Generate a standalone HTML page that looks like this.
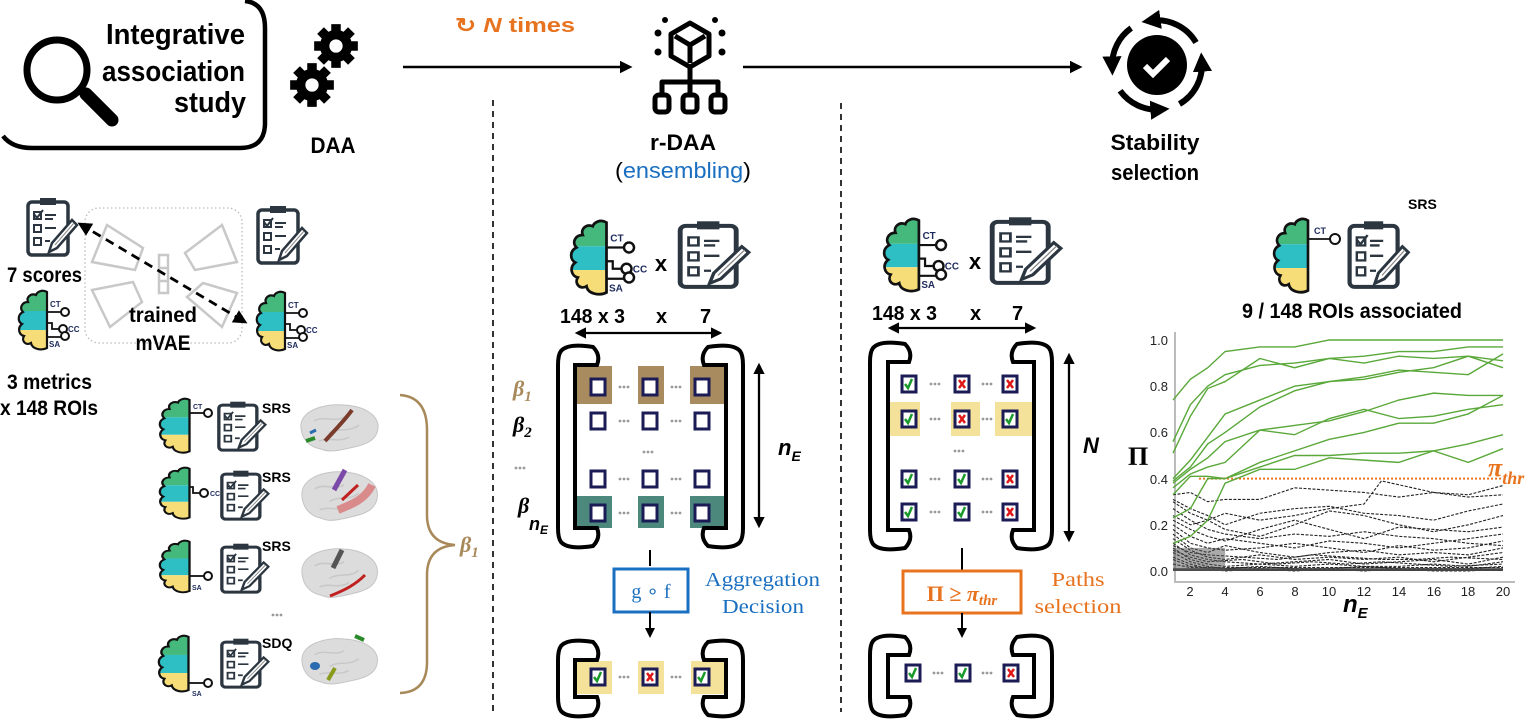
<!DOCTYPE html>
<html><head><meta charset="utf-8">
<style>
html,body{margin:0;padding:0;background:#fff;}
svg{display:block;}
text{font-family:"Liberation Sans",sans-serif;}
.b{font-weight:bold;}
.serif{font-family:"Liberation Serif",serif;}
</style></head>
<body>
<svg width="1534" height="719" viewBox="0 0 1534 719" xmlns="http://www.w3.org/2000/svg">
<defs>
 <marker id="ah" viewBox="0 0 10 10" refX="8" refY="5" markerWidth="5" markerHeight="5" orient="auto-start-reverse"><path d="M0,0 L10,5 L0,10 z" fill="#000"/></marker>
 <marker id="ah2" viewBox="0 0 10 10" refX="5" refY="5" markerWidth="3.2" markerHeight="3.2" orient="auto"><path d="M0,0 L10,5 L0,10 z" fill="#000"/></marker>
 <clipPath id="bclip"><path d="M30,2 C25,-1 20,2 19,5 C14,3 9,7 11,12 C5,12 2,18 6,22 C0,25 1,32 5,34 C0,38 2,45 7,46 C4,51 9,56 14,53 C15,59 24,61 30,58 Z"/></clipPath>
 <g id="bh">
  <g clip-path="url(#bclip)">
   <rect x="0" y="-2" width="31" height="23" fill="#45b97c"/>
   <rect x="0" y="21" width="31" height="19" fill="#2ebfc4"/>
   <rect x="0" y="40" width="31" height="22" fill="#f6dd78"/>
  </g>
  <path d="M30,2 C25,-1 20,2 19,5 C14,3 9,7 11,12 C5,12 2,18 6,22 C0,25 1,32 5,34 C0,38 2,45 7,46 C4,51 9,56 14,53 C15,59 24,61 30,58 Z" fill="none" stroke="#111" stroke-width="2.2"/>
 </g>
 <g id="b3">
  <use href="#bh"/>
  <path d="M30,22 H44 M30,33 H35 V39 H42 M30,47 H44" stroke="#111" stroke-width="1.8" fill="none"/>
  <circle cx="48" cy="22" r="4" fill="#fff" stroke="#111" stroke-width="2"/>
  <circle cx="46" cy="39" r="4" fill="#fff" stroke="#111" stroke-width="2"/>
  <circle cx="48" cy="46" r="4" fill="#fff" stroke="#111" stroke-width="2"/>
  <text x="33" y="17" font-size="8" class="b" fill="#1d2a5c">CT</text>
  <text x="51" y="42" font-size="8" class="b" fill="#1d2a5c">CC</text>
  <text x="32" y="57" font-size="8" class="b" fill="#1d2a5c">SA</text>
 </g>
 <g id="cb">
  <rect x="3" y="6" width="40" height="53" rx="4" fill="#fff" stroke="#2b3640" stroke-width="3.5"/>
  <rect x="15" y="2" width="16" height="7" fill="#2b3640"/>
  <rect x="9" y="29" width="7" height="7" fill="none" stroke="#2b3640" stroke-width="2"/>
  <rect x="9" y="42" width="7" height="7" fill="none" stroke="#2b3640" stroke-width="2"/>
  <path d="M20,19 H31 M20,23 H28 M20,32 H31 M20,45 H25" stroke="#2b3640" stroke-width="2"/>
  <polygon points="24,56 27,47 47,24 52,29 32,52" fill="#fff" stroke="#2b3640" stroke-width="2.5"/>
  <path d="M30,49 L49,27" stroke="#888" stroke-width="1"/>
 </g>
 <g id="cbe"><use href="#cb"/><rect x="9" y="16" width="7" height="7" fill="none" stroke="#2b3640" stroke-width="2"/></g>
 <g id="cbc"><use href="#cb"/><rect x="9" y="16" width="7" height="7" fill="none" stroke="#2b3640" stroke-width="2"/><path d="M9,18 l3,4 l6,-8" stroke="#2b3640" stroke-width="2" fill="none"/></g>
 <g id="c0"><rect x="-7" y="-8" width="14" height="16" fill="#fff" stroke="#1b1b55" stroke-width="3"/></g>
 <g id="cv"><use href="#c0"/><path d="M-4,0 l3,4 l4,-9" stroke="#1a9a2a" stroke-width="2.5" fill="none"/></g>
 <g id="cx"><use href="#c0"/><path d="M-3,-4 l6,8 M3,-4 l-6,8" stroke="#e01818" stroke-width="2.5" fill="none"/></g>
 <g id="dots"><circle cx="-4" cy="0" r="1.4" fill="#999"/><circle cx="0" cy="0" r="1.4" fill="#999"/><circle cx="4" cy="0" r="1.4" fill="#999"/></g>
 <g id="gear">
  <g fill="#000">
   <rect x="-5" y="-23" width="10" height="46"/>
   <rect x="-5" y="-23" width="10" height="46" transform="rotate(45)"/>
   <rect x="-5" y="-23" width="10" height="46" transform="rotate(90)"/>
   <rect x="-5" y="-23" width="10" height="46" transform="rotate(135)"/>
   <circle r="17"/>
  </g>
  <circle r="7" fill="#fff"/>
 </g>
 <g id="cortex">
  <path d="M2,25 C0,8 25,0 45,2 C65,3 80,12 79,25 C78,38 65,42 55,44 C42,47 30,50 22,46 C10,44 3,36 2,25 Z" fill="#dcdcdc" stroke="#c4c4c4" stroke-width="1"/>
  <path d="M15,18 C25,12 35,20 45,14 M30,30 C40,24 50,30 60,22 M20,38 C30,34 40,40 50,34" stroke="#c8c8c8" stroke-width="1.5" fill="none"/>
 </g>
</defs>

<!-- Integrative association study -->
<path d="M3,136 Q12,148 32,148 H240 Q265,148 265,123 V28 Q265,3 245,1" fill="none" stroke="#000" stroke-width="4.5"/>
<circle cx="57" cy="70" r="30" fill="none" stroke="#000" stroke-width="7"/>
<path d="M86,94 L112,120" stroke="#000" stroke-width="13" stroke-linecap="round"/>
<text x="245" y="44" font-size="29" class="b" text-anchor="end" textLength="139" lengthAdjust="spacingAndGlyphs">Integrative</text>
<text x="245" y="81" font-size="29" class="b" text-anchor="end" textLength="143" lengthAdjust="spacingAndGlyphs">association</text>
<text x="246" y="112" font-size="29" class="b" text-anchor="end" textLength="72" lengthAdjust="spacingAndGlyphs">study</text>

<!-- DAA gears -->
<use href="#gear" transform="translate(336,46) scale(0.95)"/>
<use href="#gear" transform="translate(312,85) scale(0.95)"/>
<text x="333" y="153" font-size="22" class="b" text-anchor="middle" textLength="45" lengthAdjust="spacingAndGlyphs">DAA</text>

<!-- top arrows -->
<line x1="403" y1="67" x2="630" y2="67" stroke="#000" stroke-width="2.5" marker-end="url(#ah)"/>
<line x1="743" y1="67" x2="1080" y2="67" stroke="#000" stroke-width="2.5" marker-end="url(#ah)"/>
<text x="455" y="32" font-size="20" class="b" fill="#e8731f" textLength="120" lengthAdjust="spacingAndGlyphs">↻ <tspan font-style="italic">N</tspan> times</text>

<!-- r-DAA icon -->
<g stroke="#000" stroke-width="5" fill="none" stroke-linejoin="round">
 <polygon points="690,23 709,34 709,56 690,67 671,56 671,34"/>
 <path d="M675,36 L690,45 L705,36 M690,45 V63"/>
 <path d="M690,67 V81 M662,94 V82 H718 V94 M690,82 V94"/>
 <rect x="655" y="95" width="14" height="17" rx="4"/>
 <rect x="683" y="95" width="14" height="17" rx="4"/>
 <rect x="711" y="95" width="14" height="17" rx="4"/>
</g>
<g fill="#000"><circle cx="658" cy="33" r="3.5"/><circle cx="658" cy="52" r="3.5"/><circle cx="722" cy="33" r="3.5"/><circle cx="722" cy="52" r="3.5"/><circle cx="665" cy="20" r="3"/><circle cx="715" cy="20" r="3"/></g>
<text x="683" y="150" font-size="22" class="b" text-anchor="middle" textLength="66" lengthAdjust="spacingAndGlyphs">r-DAA</text>
<text x="683" y="178" font-size="22" text-anchor="middle" textLength="136" lengthAdjust="spacingAndGlyphs">(<tspan fill="#1a6fc0">ensembling</tspan>)</text>

<!-- Stability icon -->
<circle cx="1157" cy="65" r="30" fill="#000"/>
<path d="M1145,66 l8,8 l15,-15" stroke="#fff" stroke-width="6" fill="none"/>
<g stroke="#000" stroke-width="6" fill="none" marker-end="url(#ah2)">
 <path d="M1196,42.5 A45,45 0 0 0 1151,20.7"/>
 <path d="M1131.2,28.1 A45,45 0 0 0 1112.2,66"/>
 <path d="M1120.1,90.8 A45,45 0 0 0 1160,109.5"/>
 <path d="M1179.5,104 A45,45 0 0 0 1201.8,62"/>
</g>
<text x="1155" y="150" font-size="22" class="b" text-anchor="middle" textLength="89" lengthAdjust="spacingAndGlyphs">Stability</text>
<text x="1155" y="180" font-size="22" class="b" text-anchor="middle" textLength="88" lengthAdjust="spacingAndGlyphs">selection</text>

<!-- dashed separators -->
<line x1="493" y1="100" x2="493" y2="712" stroke="#000" stroke-width="1.6" stroke-dasharray="6,5"/>
<line x1="841" y1="103" x2="841" y2="712" stroke="#000" stroke-width="1.6" stroke-dasharray="6,5"/>

<!-- left upper -->
<use href="#cbc" transform="translate(25,196) scale(1.0)"/>
<text x="7" y="282" font-size="21" class="b" textLength="75" lengthAdjust="spacingAndGlyphs">7 scores</text>
<use href="#b3" transform="translate(17,290)"/>
<text x="7" y="389" font-size="21" class="b" textLength="85" lengthAdjust="spacingAndGlyphs">3 metrics</text>
<text x="0" y="415" font-size="21" class="b" textLength="98" lengthAdjust="spacingAndGlyphs">x 148 ROIs</text>
<rect x="85" y="208" width="157" height="135" rx="14" fill="none" stroke="#bbb" stroke-width="1.3" stroke-dasharray="1.5,2.5"/>
<g fill="none" stroke="#c8c8c8" stroke-width="2.5">
 <polygon points="107,225 143,248 135,270 92,262"/>
 <polygon points="185,253 222,225 237,262 195,270"/>
 <polygon points="92,290 133,282 142,302 110,327"/>
 <polygon points="187,297 203,283 237,293 222,327"/>
 <rect x="159" y="255" width="9" height="38"/>
 <path d="M159,268 H168 M159,281 H168"/>
</g>
<line x1="80" y1="224" x2="245" y2="322" stroke="#000" stroke-width="2.8" stroke-dasharray="9,6" marker-start="url(#ah)" marker-end="url(#ah)"/>
<text x="163" y="322" font-size="21" class="b" text-anchor="middle" textLength="68" lengthAdjust="spacingAndGlyphs">trained</text>
<text x="163" y="350" font-size="21" class="b" text-anchor="middle" textLength="55" lengthAdjust="spacingAndGlyphs">mVAE</text>
<use href="#cbc" transform="translate(255,204)"/>
<use href="#b3" transform="translate(255,291)"/>

<!-- left lower rows -->
<g>
 <use href="#bh" transform="translate(158,398) scale(1.05,0.92)"/>
 <path d="M190,413 H204" stroke="#111" stroke-width="1.8"/><circle cx="208" cy="413" r="4" fill="#fff" stroke="#111" stroke-width="2"/>
 <text x="193" y="409" font-size="7" class="b" fill="#1d2a5c">CT</text>
 <use href="#cbc" transform="translate(216,400) scale(0.95,0.85)"/>
 <text x="262" y="413" font-size="14" class="b">SRS</text>
 <use href="#cortex" transform="translate(299,403) scale(1,1)"/>
 <path d="M325,441 C335,430 345,420 352,410" stroke="#7a3b2a" stroke-width="4" fill="none"/>
 <path d="M306,441 L315,438" stroke="#2a8a2a" stroke-width="4"/><path d="M310,433 L316,430" stroke="#2a6ab0" stroke-width="3"/>

 <use href="#bh" transform="translate(158,467) scale(1.05,0.87)"/>
 <path d="M190,487 H193 V493 H200" stroke="#111" stroke-width="1.8" fill="none"/><circle cx="204" cy="493" r="4" fill="#fff" stroke="#111" stroke-width="2"/>
 <text x="210" y="496" font-size="7" class="b" fill="#1d2a5c">CC</text>
 <use href="#cbc" transform="translate(219,469) scale(0.95,0.85)"/>
 <text x="262" y="482" font-size="14" class="b">SRS</text>
 <use href="#cortex" transform="translate(300,470) scale(0.98,1.05)"/>
 <path d="M334,490 L345,470" stroke="#7b4aa8" stroke-width="5"/>
 <path d="M338,510 C350,505 365,500 372,485" stroke="#d98a8a" stroke-width="8" fill="none"/>
 <path d="M342,500 L358,485" stroke="#c02020" stroke-width="3"/>

 <use href="#bh" transform="translate(158,540) scale(1.05,0.88)"/>
 <path d="M190,576 H204" stroke="#111" stroke-width="1.8"/><circle cx="208" cy="576" r="4" fill="#fff" stroke="#111" stroke-width="2"/>
 <text x="192" y="590" font-size="7" class="b" fill="#1d2a5c">SA</text>
 <use href="#cbc" transform="translate(219,542) scale(0.95,0.85)"/>
 <text x="262" y="551" font-size="14" class="b">SRS</text>
 <use href="#cortex" transform="translate(300,547) scale(0.98,1.05)"/>
 <path d="M333,568 L342,550" stroke="#555" stroke-width="5"/>
 <path d="M330,596 C345,590 355,585 365,575" stroke="#c02020" stroke-width="3" fill="none"/>

 <use href="#dots" transform="translate(277,615)"/>

 <use href="#bh" transform="translate(157,635) scale(1.05,0.95)"/>
 <path d="M189,683 H204" stroke="#111" stroke-width="1.8"/><circle cx="208" cy="683" r="4" fill="#fff" stroke="#111" stroke-width="2"/>
 <text x="192" y="696" font-size="7" class="b" fill="#1d2a5c">SA</text>
 <use href="#cbc" transform="translate(219,637) scale(0.95,0.85)"/>
 <text x="262" y="648" font-size="14" class="b">SDQ</text>
 <use href="#cortex" transform="translate(300,637) scale(0.98,0.98)"/>
 <ellipse cx="315" cy="666" rx="5" ry="4" fill="#2a6ab0"/>
 <path d="M328,680 L335,668" stroke="#8a9a1a" stroke-width="4"/>
 <path d="M355,636 L364,640" stroke="#2a8a2a" stroke-width="4"/>
</g>
<path d="M400,395 Q427,397 427,430 V515 Q427,543 455,545 Q427,547 427,575 V662 Q427,692 400,693" fill="none" stroke="#a8895a" stroke-width="2.5"/>
<text x="460" y="552" font-size="22" class="b serif" font-style="italic" fill="#a8895a">β<tspan font-size="15" dy="5" class="b">1</tspan></text>

<!-- middle panel -->
<use href="#b3" transform="translate(569,220) scale(1.25)"/>
<text x="661" y="271" font-size="22" class="b" text-anchor="middle">x</text>
<use href="#cbe" transform="translate(676,219) scale(1.4,1.15)"/>
<text x="560" y="323" font-size="20" class="b" textLength="65" lengthAdjust="spacingAndGlyphs">148 x 3</text>
<text x="656" y="323" font-size="20" class="b">x</text>
<text x="700" y="323" font-size="20" class="b">7</text>
<line x1="577" y1="333" x2="720" y2="333" stroke="#000" stroke-width="2.3" marker-start="url(#ah)" marker-end="url(#ah)"/>

<g fill="#a88b5e"><rect x="576" y="366" width="36" height="38"/><rect x="638" y="366" width="26" height="38"/><rect x="690" y="366" width="35" height="38"/></g>
<g fill="#4d887d"><rect x="576" y="496" width="36" height="32"/><rect x="638" y="496" width="26" height="32"/><rect x="690" y="496" width="35" height="32"/></g>
<g>
 <use href="#c0" x="598" y="387"/><use href="#c0" x="650" y="387"/><use href="#c0" x="702" y="387"/>
 <use href="#c0" x="598" y="421"/><use href="#c0" x="650" y="421"/><use href="#c0" x="702" y="421"/>
 <use href="#c0" x="598" y="479"/><use href="#c0" x="650" y="479"/><use href="#c0" x="702" y="479"/>
 <use href="#c0" x="598" y="513"/><use href="#c0" x="650" y="513"/><use href="#c0" x="702" y="513"/>
 <use href="#dots" x="624" y="387"/><use href="#dots" x="676" y="387"/>
 <use href="#dots" x="624" y="421"/><use href="#dots" x="676" y="421"/>
 <use href="#dots" x="648" y="452"/>
 <use href="#dots" x="624" y="479"/><use href="#dots" x="676" y="479"/>
 <use href="#dots" x="624" y="513"/><use href="#dots" x="676" y="513"/>
</g>
<path id="lb1" d="M597,365 H575 V528 H597 Q601,538 593,546 Q568,550 561,542 Q558,538 558,528 V365 Q558,355 561,351 Q568,343 593,347 Q601,355 597,365 Z" fill="none" stroke="#000" stroke-width="4"/>
<use href="#lb1" transform="translate(1301,0) scale(-1,1)"/>
<line x1="759" y1="365" x2="759" y2="526" stroke="#000" stroke-width="2.3" marker-start="url(#ah)" marker-end="url(#ah)"/>
<text x="778" y="455" font-size="22" class="b" font-style="italic">n<tspan font-size="14" dy="6">E</tspan></text>
<text x="513" y="396" font-size="22" class="b serif" font-style="italic" fill="#a8895a">β<tspan font-size="15" dy="5">1</tspan></text>
<text x="513" y="432" font-size="22" class="b serif" font-style="italic">β<tspan font-size="15" dy="5">2</tspan></text>
<use href="#dots" x="520" y="468"/>
<text x="518" y="513" font-size="22" class="b serif" font-style="italic">β</text>
<text x="529" y="530" font-size="18" class="b" font-style="italic">n<tspan font-size="12" dy="4">E</tspan></text>

<line x1="650" y1="550" x2="650" y2="566" stroke="#000" stroke-width="2"/>
<rect x="614" y="569" width="74" height="43" fill="#fff" stroke="#1a6fc0" stroke-width="3"/>
<text x="651" y="598" font-size="20" text-anchor="middle" fill="#1a6fc0" class="serif">g ∘ f</text>
<line x1="650" y1="612" x2="650" y2="636" stroke="#000" stroke-width="2" marker-end="url(#ah)"/>
<text x="705" y="586" font-size="20" fill="#1a6fc0" class="serif" textLength="115" lengthAdjust="spacingAndGlyphs">Aggregation</text>
<text x="722" y="613" font-size="20" fill="#1a6fc0" class="serif" textLength="82" lengthAdjust="spacingAndGlyphs">Decision</text>

<g fill="#f5e29a"><rect x="575" y="661" width="37" height="33"/><rect x="638" y="661" width="26" height="33"/><rect x="691" y="661" width="34" height="33"/></g>
<use href="#cv" x="598" y="677"/><use href="#cx" x="650" y="677"/><use href="#cv" x="702" y="677"/>
<use href="#dots" x="624" y="677"/><use href="#dots" x="676" y="677"/>
<path id="lb2" d="M597,660 H575 V697 H597 Q601,707 593,715 Q568,719 561,711 Q558,707 558,697 V660 Q558,650 561,646 Q568,638 593,642 Q601,650 597,660 Z" fill="none" stroke="#000" stroke-width="4"/>
<use href="#lb2" transform="translate(1301,0) scale(-1,1)"/>

<!-- right-middle panel -->
<use href="#b3" transform="translate(882,218) scale(1.23)"/>
<text x="975" y="269" font-size="22" class="b" text-anchor="middle">x</text>
<use href="#cbe" transform="translate(988,215) scale(1.4,1.15)"/>
<text x="872" y="320" font-size="20" class="b" textLength="65" lengthAdjust="spacingAndGlyphs">148 x 3</text>
<text x="970" y="320" font-size="20" class="b">x</text>
<text x="1012" y="320" font-size="20" class="b">7</text>
<line x1="890" y1="328" x2="1034" y2="328" stroke="#000" stroke-width="2.3" marker-start="url(#ah)" marker-end="url(#ah)"/>
<g fill="#f5e29a"><rect x="889" y="402" width="31" height="34"/><rect x="951" y="402" width="29" height="34"/><rect x="995" y="402" width="38" height="34"/></g>
<g>
 <use href="#cv" x="909" y="384"/><use href="#cx" x="962" y="384"/><use href="#cx" x="1010" y="384"/>
 <use href="#cv" x="909" y="419"/><use href="#cx" x="962" y="419"/><use href="#cv" x="1010" y="419"/>
 <use href="#cv" x="909" y="479"/><use href="#cv" x="962" y="479"/><use href="#cx" x="1010" y="479"/>
 <use href="#cv" x="909" y="512"/><use href="#cv" x="962" y="512"/><use href="#cx" x="1010" y="512"/>
 <use href="#dots" x="935" y="384"/><use href="#dots" x="987" y="384"/>
 <use href="#dots" x="935" y="419"/><use href="#dots" x="987" y="419"/>
 <use href="#dots" x="959" y="451"/>
 <use href="#dots" x="935" y="479"/><use href="#dots" x="987" y="479"/>
 <use href="#dots" x="935" y="512"/><use href="#dots" x="987" y="512"/>
</g>
<path id="lb3" d="M909,362 H888 V530 H909 Q913,540 905,548 Q880,552 873,544 Q870,540 870,530 V362 Q870,352 873,348 Q880,340 905,344 Q913,352 909,362 Z" fill="none" stroke="#000" stroke-width="4"/>
<use href="#lb3" transform="translate(1922,0) scale(-1,1)"/>
<line x1="1069" y1="355" x2="1069" y2="540" stroke="#000" stroke-width="2.3" marker-start="url(#ah)" marker-end="url(#ah)"/>
<text x="1083" y="453" font-size="22" class="b" font-style="italic">N</text>

<line x1="962" y1="548" x2="962" y2="570" stroke="#000" stroke-width="2"/>
<rect x="903" y="571" width="118" height="42" fill="#fff" stroke="#e8731f" stroke-width="3"/>
<text x="962" y="601" font-size="22" text-anchor="middle" fill="#e8731f" class="b serif">Π ≥ <tspan font-style="italic">π</tspan><tspan font-size="15" font-style="italic" dy="4">thr</tspan></text>
<line x1="962" y1="613" x2="962" y2="636" stroke="#000" stroke-width="2" marker-end="url(#ah)"/>
<text x="1078" y="586" font-size="20" text-anchor="middle" fill="#e8731f" class="serif" textLength="53" lengthAdjust="spacingAndGlyphs">Paths</text>
<text x="1078" y="613" font-size="20" text-anchor="middle" fill="#e8731f" class="serif" textLength="87" lengthAdjust="spacingAndGlyphs">selection</text>

<use href="#cv" x="913" y="673"/><use href="#cv" x="963" y="673"/><use href="#cx" x="1011" y="673"/>
<use href="#dots" x="938" y="673"/><use href="#dots" x="987" y="673"/>
<path id="lb4" d="M909,655 H888 V697 H909 Q913,707 905,715 Q880,719 873,711 Q870,707 870,697 V655 Q870,645 873,641 Q880,633 905,637 Q913,645 909,655 Z" fill="none" stroke="#000" stroke-width="4"/>
<use href="#lb4" transform="translate(1922,0) scale(-1,1)"/>

<!-- right plot panel -->
<use href="#bh" transform="translate(1272,218) scale(1.2,1.25)"/>
<path d="M1308,239 H1330" stroke="#111" stroke-width="1.8"/><circle cx="1335" cy="239" r="5" fill="#fff" stroke="#111" stroke-width="2"/>
<text x="1314" y="234" font-size="9" class="b" fill="#1d2a5c">CT</text>
<use href="#cbc" transform="translate(1346,219) scale(1.2,1.15)"/>
<text x="1408" y="209" font-size="14" class="b">SRS</text>
<text x="1352" y="318" font-size="21" class="b" text-anchor="middle" textLength="220" lengthAdjust="spacingAndGlyphs">9 / 148 ROIs associated</text>

<path d="M1175,332 V582 H1515" fill="none" stroke="#bbb" stroke-width="2"/>
<g font-size="13" class="serif" text-anchor="end" fill="#222">
 <text x="1168" y="345">1.0</text><text x="1168" y="391">0.8</text><text x="1168" y="437">0.6</text>
 <text x="1168" y="484">0.4</text><text x="1168" y="530">0.2</text><text x="1168" y="576">0.0</text>
</g>
<g font-size="13" class="serif" text-anchor="middle" fill="#222">
 <text x="1190" y="596">2</text><text x="1225" y="596">4</text><text x="1260" y="596">6</text><text x="1295" y="596">8</text><text x="1329" y="596">10</text>
 <text x="1364" y="596">12</text><text x="1399" y="596">14</text><text x="1434" y="596">16</text><text x="1468" y="596">18</text><text x="1503" y="596">20</text>
</g>
<text x="1128" y="465" font-size="26" class="b serif">Π</text>
<text x="1343" y="612" font-size="24" class="b" font-style="italic">n<tspan font-size="15" dy="6">E</tspan></text>

<g transform="translate(1173,571) scale(17.368,-231)" fill="none">
 <g stroke="#222" stroke-width="1.1" stroke-dasharray="3,1.5" vector-effect="non-scaling-stroke">
  <polyline vector-effect="non-scaling-stroke" points="0,.33 1,.34 2,.30 3,.31 5,.31 7,.36 9,.35 11,.34 13,.32 15,.34 17,.33 19,.37"/>
  <polyline vector-effect="non-scaling-stroke" points="0,.31 1,.27 2,.24 3,.20 5,.25 7,.27 9,.28 11,.25 13,.24 15,.22 17,.26 19,.29"/>
  <polyline vector-effect="non-scaling-stroke" points="0,.30 1,.25 2,.22 3,.25 5,.22 7,.24 9,.27 11,.29 12,.39 15,.34 17,.32 19,.33"/>
  <polyline vector-effect="non-scaling-stroke" points="0,.24 1,.20 2,.22 3,.18 5,.15 7,.20 9,.26 11,.24 13,.20 15,.17 17,.20 19,.24"/>
  <polyline vector-effect="non-scaling-stroke" points="0,.22 1,.18 2,.15 3,.13 5,.18 7,.22 9,.18 11,.14 13,.19 15,.18 17,.17 19,.19"/>
  <polyline vector-effect="non-scaling-stroke" points="0,.20 1,.15 2,.12 3,.14 5,.12 7,.10 9,.13 11,.12 13,.10 15,.12 17,.14 19,.16"/>
  <polyline vector-effect="non-scaling-stroke" points="0,.18 1,.12 2,.10 3,.09 5,.10 7,.12 9,.10 11,.08 13,.11 15,.09 17,.10 19,.13"/>
  <polyline vector-effect="non-scaling-stroke" points="0,.16 1,.10 2,.08 3,.11 5,.08 7,.06 9,.08 11,.09 13,.07 15,.08 17,.07 19,.10"/>
  <polyline vector-effect="non-scaling-stroke" points="0,.14 1,.09 2,.06 3,.05 5,.07 7,.05 9,.06 11,.05 13,.06 15,.04 17,.06 19,.08"/>
  <polyline vector-effect="non-scaling-stroke" points="0,.12 1,.07 2,.05 3,.04 5,.03 7,.04 9,.05 11,.03 13,.04 15,.05 17,.03 19,.06"/>
  <polyline vector-effect="non-scaling-stroke" points="0,.10 1,.05 2,.03 3,.02 5,.03 7,.02 9,.03 11,.02 13,.02 15,.03 17,.02 19,.04"/>
  <polyline vector-effect="non-scaling-stroke" points="0,.08 1,.04 2,.02 3,.01 5,.02 7,.01 9,.01 11,.02 13,.01 15,.01 17,.01 19,.02"/>
  <polyline vector-effect="non-scaling-stroke" points="0,.06 1,.03 2,.01 3,0 5,.01 7,0 9,.01 11,0 13,.01 15,0 17,0 19,.01"/>
  <polyline vector-effect="non-scaling-stroke" points="0,.27 1,.22 2,.18 3,.16 5,.14 7,.16 9,.15 11,.17 13,.15 15,.14 17,.12 19,.11"/>
  <polyline vector-effect="non-scaling-stroke" points="0,.05 1,.02 3,.01 19,.005"/>
  <polyline vector-effect="non-scaling-stroke" points="0,.03 1,.015 19,.015"/>
  <polyline vector-effect="non-scaling-stroke" points="0,.09 1,.06 2,.04 4,.05 6,.03 8,.04 10,.03 12,.04 14,.03 16,.02 19,.03"/>
  <polyline vector-effect="non-scaling-stroke" points="0,.11 1,.08 2,.07 4,.06 6,.05 8,.07 10,.06 12,.05 14,.05 16,.06 19,.05"/>
 </g>
 <rect x="0" y="0" width="19" height=".012" fill="#444"/>
 <rect x="0" y="0" width="3" height=".1" fill="#555" opacity="0.5"/>
 <line x1="1.5" y1=".4" x2="19" y2=".4" stroke="#e8731f" stroke-width="2" stroke-dasharray="2,2" vector-effect="non-scaling-stroke"/>
 <g stroke="#5aa83a" stroke-width="1.4">
  <polyline vector-effect="non-scaling-stroke" points="0,.74 1,.83 2,.88 3,.95 5,.97 7,.97 9,1 11,1 13,1 15,1 17,1 19,1"/>
  <polyline vector-effect="non-scaling-stroke" points="0,.56 1,.72 2,.80 3,.85 5,.89 7,.90 9,.92 11,.93 13,.95 15,.95 17,.97 19,.97"/>
  <polyline vector-effect="non-scaling-stroke" points="0,.51 1,.67 2,.79 3,.82 5,.92 7,.88 9,.92 11,.90 13,.93 15,.92 17,.93 19,.91"/>
  <polyline vector-effect="non-scaling-stroke" points="0,.40 1,.48 2,.58 3,.68 5,.74 7,.80 9,.82 11,.83 13,.86 15,.88 17,.93 19,.88"/>
  <polyline vector-effect="non-scaling-stroke" points="0,.39 1,.45 2,.55 3,.60 5,.71 7,.78 9,.82 11,.84 13,.87 15,.86 17,.85 19,.94"/>
  <polyline vector-effect="non-scaling-stroke" points="0,.38 1,.44 2,.49 3,.56 5,.61 7,.63 9,.65 11,.69 13,.74 15,.77 17,.76 19,.76"/>
  <polyline vector-effect="non-scaling-stroke" points="0,.36 1,.42 2,.45 3,.47 5,.61 7,.59 9,.66 11,.70 13,.66 15,.67 17,.70 19,.72"/>
  <polyline vector-effect="non-scaling-stroke" points="0,.33 1,.41 2,.41 3,.40 5,.47 7,.52 9,.57 11,.60 13,.64 15,.64 17,.68 19,.76"/>
  <polyline vector-effect="non-scaling-stroke" points="0,.23 1,.27 2,.40 3,.40 5,.45 7,.50 9,.50 11,.51 13,.51 15,.52 17,.55 19,.59"/>
  <polyline vector-effect="non-scaling-stroke" points="0,.12 1,.15 2,.22 3,.38 5,.44 7,.44 9,.49 11,.48 13,.47 15,.52 17,.47 19,.53"/>
 </g>
</g>
<text x="1488" y="476" font-size="26" class="b serif" font-style="italic" fill="#e8731f">π<tspan font-size="18" dy="8">thr</tspan></text>
</svg>
</body></html>
